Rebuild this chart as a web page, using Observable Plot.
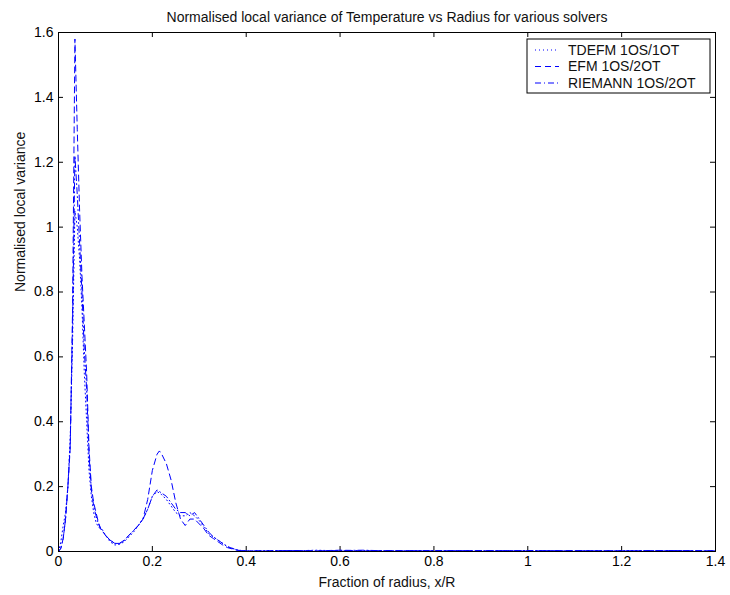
<!DOCTYPE html>
<html>
<head>
<meta charset="utf-8">
<script src="https://cdn.jsdelivr.net/npm/d3@7"></script>
<script src="https://cdn.jsdelivr.net/npm/@observablehq/plot@0.6"></script>
<style>
  body { margin: 0; background: #fff; }
  #chart { width: 730px; height: 595px; }
</style>
</head>
<body>
<div id="chart"></div>
<script>
const title = "Normalised local variance of Temperature vs Radius for various solvers";
const xLabel = "Fraction of radius, x/R";
const yLabel = "Normalised local variance";
const seriesNames = ["TDEFM 1OS/1OT", "EFM 1OS/2OT", "RIEMANN 1OS/2OT"];
const xTicks = [0, 0.2, 0.4, 0.6, 0.8, 1.0, 1.2, 1.4];
const yTicks = [0, 0.2, 0.4, 0.6, 0.8, 1.0, 1.2, 1.4, 1.6];

const xs = [0, 0.005, 0.01, 0.015, 0.02, 0.025, 0.03, 0.035, 0.04, 0.045, 0.05, 0.055, 0.06, 0.065, 0.07, 0.075, 0.08, 0.085, 0.09, 0.095, 0.1, 0.11, 0.12, 0.13, 0.14, 0.15, 0.16, 0.17, 0.18, 0.19, 0.2, 0.21, 0.215, 0.22, 0.23, 0.24, 0.25, 0.26, 0.27, 0.28, 0.29, 0.3, 0.31, 0.32, 0.33, 0.34, 0.35, 0.36, 0.37, 0.38, 0.39, 0.4, 0.45, 0.5, 0.55, 0.6, 0.65, 0.7, 0.8, 0.9, 1.0, 1.1, 1.2, 1.3, 1.4];

const tdefm = [0, 0.03, 0.08, 0.12, 0.2, 0.35, 0.65, 1.05, 1.0, 0.9, 0.75, 0.55, 0.4, 0.25, 0.17, 0.12, 0.09, 0.075, 0.07, 0.065, 0.05, 0.03, 0.02, 0.022, 0.03, 0.045, 0.06, 0.08, 0.1, 0.13, 0.17, 0.185, 0.18, 0.175, 0.16, 0.14, 0.12, 0.11, 0.11, 0.12, 0.11, 0.095, 0.075, 0.055, 0.045, 0.035, 0.025, 0.015, 0.01, 0.005, 0.003, 0.002, 0.003, 0.002, 0.004, 0.002, 0.003, 0.002, 0.003, 0.002, 0.003, 0.002, 0.003, 0.002, 0.002];

const efm = [0, 0.01, 0.04, 0.1, 0.2, 0.32, 0.75, 1.58, 1.3, 1.05, 0.85, 0.7, 0.55, 0.32, 0.2, 0.15, 0.12, 0.09, 0.07, 0.06, 0.05, 0.035, 0.025, 0.025, 0.035, 0.05, 0.065, 0.08, 0.1, 0.16, 0.25, 0.3, 0.31, 0.3, 0.27, 0.22, 0.15, 0.1, 0.08, 0.1, 0.1, 0.085, 0.07, 0.05, 0.04, 0.03, 0.02, 0.012, 0.008, 0.004, 0.002, 0.001, 0.002, 0.003, 0.002, 0.004, 0.002, 0.003, 0.002, 0.003, 0.002, 0.003, 0.002, 0.003, 0.002];

const riemann = [0, 0.01, 0.04, 0.1, 0.2, 0.33, 0.7, 1.22, 1.1, 0.95, 0.8, 0.62, 0.5, 0.3, 0.19, 0.14, 0.11, 0.085, 0.07, 0.06, 0.05, 0.035, 0.025, 0.025, 0.033, 0.05, 0.065, 0.08, 0.1, 0.13, 0.17, 0.19, 0.185, 0.18, 0.17, 0.15, 0.13, 0.12, 0.12, 0.11, 0.12, 0.1, 0.08, 0.06, 0.045, 0.035, 0.025, 0.015, 0.01, 0.005, 0.003, 0.002, 0.002, 0.003, 0.002, 0.003, 0.004, 0.002, 0.003, 0.002, 0.003, 0.002, 0.002, 0.003, 0.002];

const seriesValues = [tdefm, efm, riemann];
const dashes = ["1,3", "6,4", "6,3,1,3"];
const blue = "#0000ff";
const fs = 14;

const data = [];
seriesNames.forEach((name, i) => {
  xs.forEach((x, j) => data.push({series: name, x, y: seriesValues[i][j]}));
});

const tickLenX = 5 / ((715 - 58) / 1.4);
const tickLenY = 5 / ((551 - 32) / 1.6);
const fmt = d => String(+d.toFixed(1));

const plot = Plot.plot({
  width: 730,
  height: 595,
  marginLeft: 58,
  marginRight: 15,
  marginTop: 32,
  marginBottom: 44,
  style: {fontFamily: "'Liberation Sans', Arial, sans-serif", fontSize: fs + "px", color: "black", background: "white"},
  x: {domain: [0, 1.4], ticks: xTicks, tickFormat: fmt, label: null},
  y: {domain: [0, 1.6], ticks: yTicks, tickFormat: fmt, label: null},
  marks: [
    Plot.axisX({ticks: xTicks, tickSize: 0, tickPadding: 5, tickFormat: fmt, label: null, fontSize: fs, fill: "black"}),
    Plot.axisY({ticks: yTicks, tickSize: 0, tickPadding: 5, tickFormat: fmt, label: null, fontSize: fs, fill: "black"}),
    Plot.ruleX(xTicks, {x: d => d, y1: 0, y2: tickLenY, stroke: "black"}),
    Plot.ruleX(xTicks, {x: d => d, y1: 1.6, y2: 1.6 - tickLenY, stroke: "black"}),
    Plot.ruleY(yTicks, {y: d => d, x1: 0, x2: tickLenX, stroke: "black"}),
    Plot.ruleY(yTicks, {y: d => d, x1: 1.4, x2: 1.4 - tickLenX, stroke: "black"}),
    ...seriesNames.map((name, i) =>
      Plot.line(data.filter(d => d.series === name), {x: "x", y: "y", stroke: blue, strokeWidth: 1, strokeDasharray: dashes[i], curve: "linear"})
    ),
    Plot.frame({stroke: "black"}),
    Plot.text([title], {frameAnchor: "top", dy: -20, fontSize: fs, fill: "#111"}),
    Plot.text([xLabel], {frameAnchor: "bottom", dy: 35, fontSize: fs, fill: "#111"}),
    Plot.text([yLabel], {frameAnchor: "left", dx: -38, rotate: -90, fontSize: fs, fill: "#111"})
  ]
});

// Legend box (top-right inside plot)
const svg = d3.select(plot);
const lg = svg.append("g").attr("transform", "translate(527,39)");
lg.append("rect").attr("x", 0).attr("y", 0).attr("width", 183).attr("height", 54)
  .attr("fill", "white").attr("stroke", "black");
seriesNames.forEach((name, i) => {
  const yy = 11 + i * 16.5;
  lg.append("line").attr("x1", 8).attr("x2", 32).attr("y1", yy).attr("y2", yy)
    .attr("stroke", blue).attr("stroke-width", 1).attr("stroke-dasharray", dashes[i]);
  lg.append("text").attr("x", 41).attr("y", yy).attr("dy", "0.35em")
    .attr("text-anchor", "start")
    .attr("font-size", fs).attr("fill", "#111").text(name);
});

document.getElementById("chart").appendChild(plot);
</script>
</body>
</html>
